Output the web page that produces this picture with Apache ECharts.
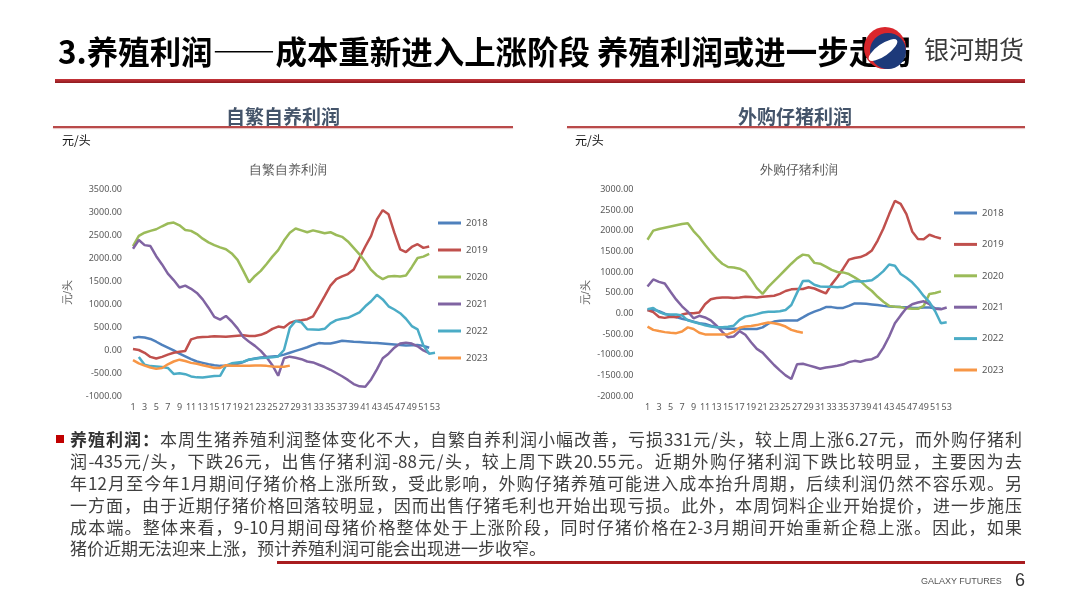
<!DOCTYPE html>
<html lang="zh-CN"><head><meta charset="utf-8">
<script src="https://cdn.jsdelivr.net/npm/echarts/dist/echarts.min.js"></script>
<style>
body{margin:0;background:#fff;font-family:"Noto Sans CJK SC","Noto Sans",sans-serif;}
#wrap{position:relative;width:1080px;height:608px;overflow:hidden;background:#fff;}
#chart{position:absolute;left:0;top:0;width:1080px;height:608px;}
.abs{position:absolute;white-space:nowrap;}
#title{left:58px;top:30px;font-size:32px;line-height:40px;font-weight:bold;color:#000;transform-origin:0 50%;}
.hdr{font-size:19px;font-weight:bold;color:#44546a;line-height:24px;}
.uline{position:absolute;height:2px;background:#b94a4a;box-shadow:0 1px 1px rgba(200,110,110,.45);}
.unit{font-size:12px;color:#111;line-height:14px;}
.ln{position:absolute;left:70px;width:952px;font-size:17px;line-height:22px;color:#404040;white-space:nowrap;text-align:justify;text-align-last:justify;}
</style></head>
<body>
<div id="wrap">
<div id="chart"></div>
<div class="abs" id="title">3.养殖利润——成本重新进入上涨阶段 养殖利润或进一步走弱</div>
<svg class="abs" style="left:862px;top:25px" width="46" height="46" viewBox="0 0 46 46">
<circle cx="23" cy="23" r="21" fill="#d9262c"/>
<circle cx="26" cy="26" r="18" fill="#1d3a7a"/>
<ellipse cx="21" cy="25" rx="17" ry="6" transform="rotate(-35 21 25)" fill="#fff"/>
</svg>
<div class="abs" style="left:924px;top:32px;font-size:25px;line-height:32px;color:#3a3a3a;">银河期货</div>
<div class="abs" style="left:55px;top:79px;width:970px;height:4px;background:linear-gradient(#c8343a,#8e1b1f);"></div>

<div class="abs hdr" style="left:226px;top:104px;">自繁自养利润</div>
<div class="uline" style="left:53px;top:126px;width:460px;"></div>
<div class="abs unit" style="left:62px;top:133px;">元/头</div>

<div class="abs hdr" style="left:738px;top:104px;">外购仔猪利润</div>
<div class="uline" style="left:567px;top:126px;width:458px;"></div>
<div class="abs unit" style="left:575px;top:133px;">元/头</div>

<div class="abs" style="left:56px;top:435px;width:8px;height:8px;background:#c00000;"></div>
<div class="ln" style="top:428px;"><b style="color:#333">养殖利润：</b>本周生猪养殖利润整体变化不大，自繁自养利润小幅改善，亏损331元/头，较上周上涨6.27元，而外购仔猪利</div>
<div class="ln" style="top:450px;">润-435元/头，下跌26元，出售仔猪利润-88元/头，较上周下跌20.55元。近期外购仔猪利润下跌比较明显，主要因为去</div>
<div class="ln" style="top:472px;">年12月至今年1月期间仔猪价格上涨所致，受此影响，外购仔猪养殖可能进入成本抬升周期，后续利润仍然不容乐观。另</div>
<div class="ln" style="top:494px;">一方面，由于近期仔猪价格回落较明显，因而出售仔猪毛利也开始出现亏损。此外，本周饲料企业开始提价，进一步施压</div>
<div class="ln" style="top:516px;">成本端。整体来看，9-10月期间母猪价格整体处于上涨阶段，同时仔猪价格在2-3月期间开始重新企稳上涨。因此，如果</div>
<div class="ln" style="top:537px;width:auto;text-align:left;text-align-last:auto;">猪价近期无法迎来上涨，预计养殖利润可能会出现进一步收窄。</div>
<div class="abs" style="left:277px;top:561px;width:748px;height:3px;background:#a81c1f;"></div>
<div class="abs" style="left:921px;top:575px;font-size:9px;line-height:12px;color:#555;font-family:'Liberation Sans',sans-serif;">GALAXY FUTURES</div>
<div class="abs" style="left:1015px;top:569px;font-size:18px;line-height:22px;color:#333;font-family:'Liberation Sans',sans-serif;">6</div>
</div>
<script>
const weeks = ['1','2','3','4','5','6','7','8','9','10','11','12','13','14','15','16','17','18','19','20','21','22','23','24','25','26','27','28','29','30','31','32','33','34','35','36','37','38','39','40','41','42','43','44','45','46','47','48','49','50','51','52','53'];
const years = ['2018','2019','2020','2021','2022','2023'];

// 自繁自养利润 (元/头)
const zf2018 = [260,285,270,240,180,110,50,-10,-80,-140,-200,-250,-280,-310,-330,-345,-340,-330,-300,-260,-210,-185,-165,-150,-140,-130,-100,-60,-20,20,60,110,150,140,140,170,200,190,180,175,165,155,150,140,130,120,110,100,105,110,90,50];
const zf2019 = [20,0,-60,-150,-185,-150,-100,-60,-40,-20,230,270,285,290,300,295,290,300,310,320,305,305,330,380,460,510,490,590,630,645,670,730,950,1170,1400,1540,1600,1650,1750,2000,2250,2480,2840,3040,2950,2550,2190,2130,2240,2300,2220,2250];
const zf2020 = [2260,2480,2550,2590,2625,2690,2750,2770,2710,2610,2590,2520,2420,2340,2280,2230,2190,2100,1960,1720,1470,1610,1720,1870,2030,2170,2380,2550,2640,2600,2560,2600,2570,2540,2560,2500,2460,2360,2220,2080,1920,1740,1620,1540,1600,1610,1600,1620,1800,2000,2030,2090];
const zf2021 = [2200,2390,2280,2260,2040,1860,1660,1520,1360,1400,1330,1240,1100,920,720,660,740,620,470,280,180,90,-20,-160,-330,-560,-180,-145,-170,-200,-250,-270,-320,-370,-430,-500,-570,-650,-740,-790,-800,-640,-420,-180,-80,50,140,160,140,80,-10,-70];
const zf2022 = [null,-150,-320,-350,-360,-370,-390,-520,-505,-525,-575,-595,-600,-580,-565,-560,-340,-290,-270,-255,-205,-190,-175,-170,-160,-140,0,480,630,600,450,445,440,460,580,650,680,700,760,820,950,1060,1200,1100,950,880,800,680,520,450,100,-80,-60];
const zf2023 = [-220,-290,-340,-380,-410,-390,-310,-250,-210,-240,-280,-300,-330,-360,-390,-390,-330,-340,-345,-345,-345,-335,-335,-345,-360,-365,-365,-340];

// 外购仔猪利润 (元/头)
const wg2018 = [80,90,50,-10,-50,-90,-130,-160,-200,-240,-260,-300,-330,-360,-375,-375,-375,-380,-380,-380,-340,-250,-200,-180,-175,-175,-175,-100,-20,40,90,150,150,130,130,180,240,240,230,215,200,180,165,160,150,145,135,130,140,140,120,110];
const wg2019 = [80,30,-90,-110,-85,-95,-30,0,0,20,220,340,370,385,385,370,380,400,395,385,400,415,425,470,540,580,590,590,630,600,540,480,700,880,1080,1300,1340,1360,1420,1520,1760,2050,2400,2720,2650,2400,1980,1800,1790,1900,1850,1810];
const wg2020 = [1780,2000,2040,2070,2100,2130,2160,2180,1990,1840,1660,1490,1330,1200,1120,1110,1080,1010,820,610,470,640,780,920,1060,1200,1330,1420,1400,1220,1200,1130,1050,1000,990,950,870,780,650,540,400,280,180,160,150,120,110,110,180,470,490,530];
const wg2021 = [650,820,760,720,520,330,170,40,-120,-60,-100,-170,-300,-450,-580,-560,-430,-520,-700,-860,-950,-1100,-1250,-1380,-1500,-1590,-1230,-1220,-1260,-1300,-1340,-1310,-1290,-1270,-1240,-1180,-1150,-1170,-1130,-1110,-1040,-830,-560,-240,-50,130,220,260,290,220,110,100,140];
const wg2022 = [100,130,30,-20,-30,-30,-50,-170,-210,-250,-290,-320,-335,-335,-325,-300,-160,-80,-55,-20,20,40,40,50,80,200,500,780,790,690,650,645,645,630,650,740,780,770,780,800,900,1020,1180,1150,950,860,750,600,420,270,50,-240,-215];
const wg2023 = [-320,-400,-430,-455,-470,-480,-440,-340,-380,-470,-510,-515,-515,-515,-505,-450,-350,-320,-305,-285,-250,-220,-240,-270,-320,-400,-440,-470];

const leftSeries = [zf2018,zf2019,zf2020,zf2021,zf2022,zf2023];
const rightSeries = [wg2018,wg2019,wg2020,wg2021,wg2022,wg2023];
const colors = ['#4F81BD','#C0504D','#9BBB59','#8064A2','#4BACC6','#F79646'];

const gray = '#595959';
function xAx(i){return {type:'category',gridIndex:i,data:weeks,boundaryGap:false,
  axisLine:{show:false},axisTick:{show:false},splitLine:{show:false},
  axisLabel:{interval:1,fontSize:9,color:gray,margin:7,fontFamily:'Noto Sans'}};}
function yAx(i,min,max,margin,gap){return {type:'value',gridIndex:i,min:min,max:max,interval:500,
  axisLine:{show:false},axisTick:{show:false},splitLine:{show:false},
  axisLabel:{fontSize:9,color:gray,margin:margin,fontFamily:'Noto Sans',formatter:v=>v.toFixed(2)},
  name:'元/头',nameLocation:'middle',nameGap:gap,nameTextStyle:{fontSize:11,color:gray}};}
function legend(left,top,gap){return {orient:'vertical',left:left,top:top,icon:'rect',itemWidth:23,itemHeight:3,
  itemGap:gap,data:years,textStyle:{fontSize:9.5,color:gray,lineHeight:12,fontFamily:'Noto Sans'}};}

const series=[];
years.forEach((y,k)=>{
  series.push({name:y,type:'line',xAxisIndex:0,yAxisIndex:0,data:leftSeries[k],showSymbol:false,symbol:'none',
    lineStyle:{width:2.5,color:colors[k]},itemStyle:{color:colors[k]}});
});
years.forEach((y,k)=>{
  series.push({name:y,type:'line',xAxisIndex:1,yAxisIndex:1,data:rightSeries[k],showSymbol:false,symbol:'none',
    lineStyle:{width:2.5,color:colors[k]},itemStyle:{color:colors[k]}});
});

const chart = echarts.init(document.getElementById('chart'),null,{renderer:'canvas'});
chart.setOption({
  animation:false,
  color:colors,
  title:[
    {text:'自繁自养利润',left:244,top:159,textStyle:{fontSize:13,fontWeight:'normal',color:gray}},
    {text:'外购仔猪利润',left:755,top:159,textStyle:{fontSize:13,fontWeight:'normal',color:gray}}
  ],
  legend:[legend(433,212,15),legend(949,202,19.4)],
  grid:[{left:133,right:645,top:189,bottom:212},{left:647.5,right:133.3,top:189.3,bottom:212}],
  xAxis:[xAx(0),xAx(1)],
  yAxis:[yAx(0,-1000,3500,11,60),yAx(1,-2000,3000,14,56)],
  series:series
});

const t=document.getElementById('title');
t.style.transform='scaleX('+(854/t.scrollWidth)+')';
</script>
</body></html>
